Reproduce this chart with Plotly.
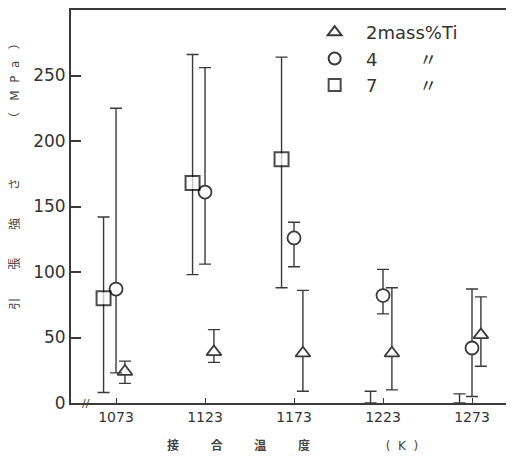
import plotly.graph_objects as go

temps = [1073, 1123, 1173, 1223, 1273]
tick_labels = ["1073", "1123", "1173", "1223", "1273"]

# 2 mass% Ti (triangle)
ti2_val = [24, 39, 38, 38, 52]
ti2_hi = [32, 56, 86, 88, 81]
ti2_lo = [15, 31, 9, 10, 28]

# 4 mass% Ti (circle)
ti4_val = [87, 161, 126, 82, 42]
ti4_hi = [225, 256, 138, 102, 87]
ti4_lo = [23, 106, 104, 68, 5]

# 7 mass% Ti (square)
ti7_val = [80, 168, 186, 0, 0]
ti7_hi = [142, 266, 264, 9, 7]
ti7_lo = [8, 98, 88, 0, 0]

offsets = {"ti2": 5, "ti4": 0, "ti7": -7}
line_c = "#3a3a3a"

def mk(vals, hi, lo, off, symbol, name, sizes, lc=line_c, lw=1.8):
    return go.Scatter(
        x=[t + off for t in temps], y=vals, mode="markers", name=name,
        marker=dict(symbol=symbol, size=sizes, color="white",
                    line=dict(color=lc, width=lw)),
        error_y=dict(type="data", symmetric=False,
                     array=[h - v for h, v in zip(hi, vals)],
                     arrayminus=[v - l for v, l in zip(vals, lo)],
                     color=line_c, thickness=1.4, width=6),
        cliponaxis=False,
    )

fig = go.Figure()
fig.add_trace(mk(ti2_val, ti2_hi, ti2_lo, offsets["ti2"], "triangle-up", "\u00a0\u00a02mass%Ti", 13))
fig.add_trace(mk(ti4_val, ti4_hi, ti4_lo, offsets["ti4"], "circle", "\u00a0\u00a04　 　〃", 13))
fig.add_trace(mk(ti7_val, ti7_hi, ti7_lo, offsets["ti7"], "square", "\u00a0\u00a07　 　〃",
                 [14, 14, 14, 0, 0], lc="#000000", lw=2))

# page body has an 8px margin, so the figure is offset by 8px right and down
fig.update_layout(
    width=506, height=448,
    margin=dict(l=63, r=0, t=2, b=53),
    paper_bgcolor="white", plot_bgcolor="white",
    font=dict(family="DejaVu Sans, Noto Sans CJK JP", color="#333"),
    showlegend=True,
    legend=dict(x=0.55, y=0.99, xanchor="left", yanchor="top",
                font=dict(size=18, color="#333"), bgcolor="rgba(0,0,0,0)",
                itemsizing="constant", tracegroupgap=0),
    xaxis=dict(range=[1047.7, 1296.6], tickvals=temps, ticktext=tick_labels,
               showgrid=False, zeroline=False, showline=True, mirror=True,
               linecolor=line_c, linewidth=2, ticks="inside", ticklen=5,
               tickcolor=line_c, tickfont=dict(size=14, color="#333")),
    yaxis=dict(range=[0, 300], tickvals=[0, 50, 100, 150, 200, 250],
               showgrid=False, zeroline=False, showline=True, mirror=False,
               linecolor=line_c, linewidth=2, ticks="inside", ticklen=10,
               tickcolor=line_c, tickwidth=2, tickfont=dict(size=17, color="#333")),
)

fig.add_annotation(text="引　　 張　　 強　　 さ　　　　　（   M  P  a   ）",
                   xref="paper", yref="paper", x=-0.126, y=0.584, showarrow=False,
                   textangle=-90, xanchor="center", yanchor="middle",
                   font=dict(size=12, color="#444"))
fig.add_annotation(text="<b>接</b>　　  <b>合</b>　　  <b>温</b>　　  <b>度</b>　　　　　　 (  K  )",
                   xref="paper", yref="paper", x=0.501, y=-0.107, showarrow=False,
                   xanchor="center", yanchor="middle", font=dict(size=12, color="#444"))
fig.add_annotation(text="//", xref="x", yref="y", x=1056, y=0, showarrow=False,
                   font=dict(size=11, color=line_c))

fig.write_html("out.html")
